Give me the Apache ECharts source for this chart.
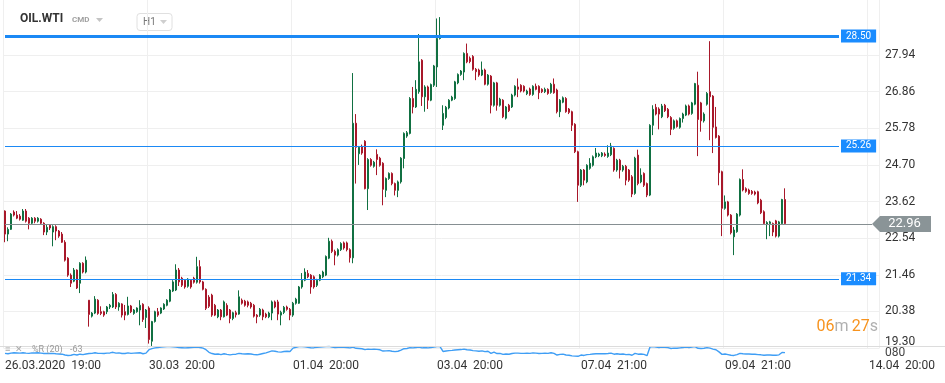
<!DOCTYPE html>
<html><head><meta charset="utf-8">
<script src="https://cdn.jsdelivr.net/npm/echarts@6/dist/echarts.min.js"></script>
<style>html,body{margin:0;padding:0;background:#fff}#c{width:945px;height:383px}</style>
</head><body><div id="c"></div>
<script>
// ---- DATA (OHLC rows: [open, close, low, high]) ----
const week1 = [
[23.34,22.66,22.42,23.36],[22.66,22.80,22.45,22.86],[22.80,23.25,22.78,23.28],[23.31,23.22,23.18,23.36],
[23.22,23.13,23.10,23.34],[23.19,23.10,23.06,23.25],[23.07,23.34,23.05,23.40],[23.34,23.04,23.00,23.40],
[23.13,22.98,22.80,23.16],[22.98,23.13,22.95,23.16],[23.13,23.04,22.98,23.16],[23.04,23.13,23.00,23.16],
[23.10,22.98,22.94,23.13],[22.98,22.72,22.63,23.01],[22.72,22.86,22.63,22.95],[22.92,22.84,22.78,22.95],
[22.72,22.88,22.30,22.92],[22.88,22.75,22.48,22.92],[22.75,22.60,22.55,22.78],[22.66,22.42,22.40,22.72],
[22.42,21.89,21.85,22.48],[21.95,21.45,21.40,21.98],[21.45,21.21,21.10,21.50],[21.27,21.60,21.24,21.66],
[21.60,21.07,21.04,21.62],[21.21,21.80,20.92,21.83],[21.80,21.54,21.50,21.83],[21.54,21.89,21.50,22.00]
];
const week2 = [
[20.71,20.29,19.93,20.71],[20.24,20.33,20.20,20.36],[20.33,20.74,20.30,20.83],[20.71,20.32,20.28,20.74],
[20.37,20.32,20.27,20.53],[20.37,20.27,20.22,20.40],[20.37,20.51,20.30,20.54],[20.51,20.56,20.45,20.60],
[20.51,20.88,20.48,20.95],[20.88,20.51,20.45,20.92],[20.51,20.62,20.40,20.65],[20.60,20.27,20.20,20.62],
[20.37,20.27,20.12,20.57],[20.29,20.54,20.26,20.81],[20.54,20.37,20.33,20.57],[20.32,20.42,20.28,20.45],
[20.37,20.48,20.34,20.50],[20.42,20.56,19.97,20.71],[20.59,20.14,20.07,20.62],[20.20,20.42,19.89,20.45],
[20.48,19.55,19.43,20.53],[19.50,20.08,19.36,20.10],[20.08,20.37,20.05,20.40],[20.37,20.27,20.22,20.48],
[20.33,20.48,20.30,20.50],[20.45,20.59,20.42,20.62],[20.56,20.71,20.53,20.74],[20.68,21.01,20.65,21.04],
[20.98,21.25,20.95,21.30],[21.01,21.60,20.98,21.77],[21.60,21.25,21.13,21.66],[21.36,21.15,21.10,21.40],
[21.30,21.10,21.05,21.33],[21.12,21.33,21.08,21.36],[21.30,21.10,21.05,21.33],[21.36,21.24,21.20,21.40],
[21.24,21.70,21.20,21.99],[21.70,21.25,21.20,21.89],[21.25,21.03,21.00,21.28],[21.03,20.47,20.42,21.06],
[20.80,20.53,20.48,20.86],[20.86,20.27,20.22,20.90],[20.56,20.27,20.24,20.60],[20.22,20.42,20.18,20.45],
[20.42,20.22,20.12,20.45],[20.22,20.66,20.20,20.70],[20.56,20.27,20.24,20.62],[20.42,20.17,20.03,20.45],
[20.17,20.34,20.12,20.37],[20.34,20.28,20.20,20.40],[20.30,20.81,20.28,21.00],[20.71,20.62,20.58,20.76],
[20.68,20.56,20.52,20.72],[20.66,20.56,20.50,20.70],[20.62,20.51,20.46,20.66],[20.56,20.24,20.20,20.60],
[20.27,20.22,20.03,20.30],[20.27,20.44,20.22,20.48],[20.42,20.22,20.12,20.46],[20.30,20.22,20.18,20.34],
[20.22,20.33,20.18,20.37],[20.33,20.66,20.12,20.70],[20.66,20.51,20.47,20.70],[20.66,20.30,20.12,20.72],
[20.27,20.35,19.97,20.40],[20.35,20.50,20.30,20.54],[20.51,20.44,20.40,20.55],[20.44,20.27,20.12,20.48],
[20.27,20.62,20.22,20.66],[20.62,20.74,20.58,20.78],[20.62,21.10,20.60,21.13],[21.10,21.30,21.05,21.51],
[21.30,21.54,21.27,21.65],[21.50,21.40,21.36,21.60],[21.45,21.10,20.90,21.48],[21.40,21.10,21.05,21.44],
[21.15,21.30,21.10,21.34],[21.30,21.45,21.27,21.48],[21.40,21.54,21.36,21.58],[21.45,22.00,21.42,22.03],
[21.95,22.45,21.92,22.55],[22.45,22.15,22.10,22.50],[22.15,22.04,21.74,22.20],[22.04,22.20,22.00,22.24],
[22.20,22.38,22.16,22.42],[22.40,22.25,22.20,22.44],[22.40,22.20,22.15,22.44],[22.20,21.96,21.82,22.24],
[21.96,25.93,21.80,27.41],[25.93,25.22,24.15,26.20],[25.03,25.22,24.70,25.26],[25.25,25.05,25.00,25.30],
[25.40,24.00,23.98,25.43],[24.00,24.86,23.37,24.90],[24.86,24.69,24.65,24.90],[24.66,24.78,24.62,24.82],
[25.01,24.86,24.40,25.16],[24.90,24.69,24.65,24.94],[24.75,23.98,23.51,24.78],[23.95,24.30,23.75,24.33],
[24.30,24.45,24.26,24.48],[24.45,24.15,24.10,24.48],[24.15,23.95,23.80,24.18],[23.95,24.20,23.75,24.24],
[24.20,24.90,24.15,24.93],[24.89,25.63,24.60,25.66],[25.55,25.65,25.50,25.70],[25.63,26.66,25.60,26.70],
[26.66,26.41,26.22,27.00],[26.41,26.93,26.38,27.20],[26.86,27.74,26.80,28.56],[27.79,26.71,26.44,27.82],
[26.71,27.00,26.27,27.05],[27.00,26.61,26.35,27.04],[26.61,27.07,26.58,27.10],[27.05,27.62,27.00,27.65],
[27.59,28.43,27.00,29.02],[28.43,28.53,28.40,29.06]
];
const week3 = [
[25.87,26.22,25.73,26.46],[26.10,26.40,26.05,26.44],[26.38,26.61,26.34,26.64],[26.61,26.70,26.58,26.74],
[26.66,27.15,26.62,27.18],[27.12,27.37,27.08,27.40],[27.37,27.47,27.33,27.50],[27.44,27.99,27.20,28.02],
[27.99,27.74,27.70,28.28],[27.85,27.75,27.70,27.90],[27.90,27.52,27.48,27.94],[27.52,27.45,27.20,27.56],
[27.50,27.35,27.30,27.54],[27.35,27.50,27.32,27.75],[27.50,27.08,27.05,27.54],[27.08,27.35,27.04,27.38],
[27.32,26.46,26.22,27.35],[26.46,27.12,26.42,27.15],[27.12,26.46,26.30,27.15],[26.46,26.64,26.42,26.68],
[26.61,26.12,26.08,26.64],[26.08,26.41,26.04,26.44],[26.46,26.30,26.26,26.50],[26.41,26.76,26.38,26.80],
[26.76,27.02,26.72,27.05],[27.00,26.93,26.70,27.25],[27.05,26.88,26.84,27.08],[27.02,26.88,26.84,27.05],
[26.80,26.88,26.76,26.92],[26.94,26.78,26.74,26.98],[26.78,27.02,26.74,27.05],[27.02,26.93,26.90,27.10],
[27.02,26.83,26.64,27.05],[26.93,26.86,26.82,26.96],[26.86,26.93,26.82,26.98],[26.93,26.81,26.77,26.96],
[26.84,27.08,26.80,27.12],[27.08,26.83,26.80,27.25],[26.91,26.27,26.22,26.95],[26.27,26.61,26.11,26.64],
[26.55,26.68,26.52,26.72],[26.66,26.27,26.24,26.70],[26.35,26.25,26.20,26.38],[26.27,25.87,25.70,26.30],
[25.90,25.09,25.05,25.93],[25.09,24.10,23.61,25.12],[24.10,24.55,24.05,24.58],[24.55,24.25,24.10,24.58],
[24.20,24.69,24.16,24.72],[24.60,24.75,24.56,24.90],[24.69,24.94,24.65,24.98],[24.94,25.05,24.90,25.20],
[24.97,25.02,24.93,25.06],[24.97,25.05,24.93,25.08],[25.02,24.98,24.94,25.07],[24.95,25.05,24.91,25.28],
[25.00,25.26,24.96,25.35],[25.19,24.55,24.50,25.22],[24.55,24.84,24.50,24.88],[24.84,24.55,24.30,24.88],
[24.55,24.66,24.50,24.70],[24.66,24.25,24.10,24.70],[24.55,24.25,24.20,24.58],[24.35,23.84,23.75,24.40],
[23.86,24.90,23.82,24.94],[24.99,24.15,24.10,25.15],[24.20,24.40,24.16,24.60],[24.45,24.10,24.05,24.48],
[24.15,23.81,23.75,24.18],[23.81,25.87,23.78,25.90],[25.87,26.34,25.58,26.46],[26.40,26.20,26.16,26.50],
[26.35,26.20,25.75,26.40],[26.12,26.44,26.08,26.50],[26.46,26.30,26.26,26.50],[26.34,26.12,26.08,26.38],
[26.10,25.75,25.58,26.14],[25.78,26.00,25.74,26.04],[26.00,25.83,25.80,26.04],[25.81,26.07,25.77,26.10],
[26.07,26.20,25.95,26.24],[26.17,26.44,26.14,26.48],[26.44,26.20,26.16,26.48],[26.22,26.53,26.18,26.56],
[26.49,27.10,26.46,27.12],[27.05,26.04,24.96,27.45],[26.53,26.00,25.68,26.56],[26.00,26.20,25.95,26.25],
[26.49,26.81,26.45,26.85],[26.86,26.71,25.43,28.35],[26.73,25.81,25.05,26.76],[25.82,25.51,25.48,26.41],
[25.55,24.47,24.10,25.58],[24.50,23.42,22.60,24.53],[23.42,23.61,23.38,23.80],[23.61,23.22,23.18,23.64],
[23.22,22.70,22.65,23.25],[22.58,22.78,22.04,22.87],[22.73,23.25,22.70,23.28],[23.22,24.27,23.18,24.30],
[24.27,23.96,23.92,24.57],[24.00,23.92,23.88,24.04],[23.96,23.86,23.82,24.00],[23.92,23.86,23.82,23.96],
[23.90,23.84,23.80,23.94],[23.91,23.58,23.54,23.94],[23.66,23.29,23.25,23.70],[23.32,22.97,22.93,23.36],
[22.94,23.00,22.51,23.04],[22.97,23.02,22.60,23.05],[22.97,22.72,22.60,23.00],[23.05,22.60,22.56,23.08],
[22.60,23.02,22.56,23.05],[22.97,23.68,22.93,23.70],[23.68,22.97,22.95,24.01]
];
// Williams %R (20) values, one per candle
const willR1 = [-70,-74,-68,-64,-66,-68,-64,-68,-70,-66,-66,-64,-68,-72,-70,-72,-70,-74,-76,-78,-86,-90,-88,-80,-86,-78,-82,-76];
const willR2 = [-72,-70,-64,-70,-70,-72,-68,-66,-60,-68,-66,-72,-72,-66,-70,-68,-66,-64,-74,-68,
-35,-25,-18,-14,-10,-8,-6,-6,-8,-10,-14,-16,-18,-16,-14,-12,-10,-14,-20,-35,
-60,-72,-78,-76,-82,-74,-80,-84,-80,-78,-70,-74,-76,-74,-76,-82,-84,-78,-72,-66,-56,-46,-50,-56,-58,-52,-50,-52,
-20,-12,-6,-6,-8,-12,-18,-16,-12,-10,-8,-6,-4,-10,-14,-12,-10,-12,-14,-18,
-10,-22,-24,-26,-34,-30,-32,-30,-32,-36,-48,-46,-44,-50,-54,-50,-40,
-26,-24,-16,-18,-14,-10,-18,-14,-18,-14,-10,-6,-6];
const willR3 = [-52,-48,-44,-42,-38,-36,-34,-30,-36,-38,-44,-46,-50,-46,-54,-50,-70,-58,-72,-70,-80,-76,-78,-72,-68,
-68,-70,-70,-68,-70,-66,-68,-72,-70,-68,-70,-64,-70,-86,-80,
-78,-86,-88,-94,-96,-98,-86,-90,-82,-80,-76,-74,-74,-74,-74,-72,-68,-78,-74,-78,-76,-82,-80,-88,-70,-78,-76,-80,-92,
-10,-6,-10,-14,-10,-12,-16,-24,-20,-22,-18,-14,-10,-14,-10,-6,-22,-24,-22,-16,
-20,-30,-36,-56,-80,
-76,-82,-88,-90,-82,-70,-74,-76,-76,-78,-78,-82,-84,-88,-86,-86,-88,-88,-84,-62,-63];
const timeLabels = {0:'26.03.2020  19:00', 48:'30.03  20:00', 96:'01.04  20:00', 144:'03.04  20:00', 192:'07.04  21:00', 240:'09.04  21:00', 288:'14.04  20:00'};
const priceTicks = ['19.30','20.38','21.46','22.54','23.62','24.70','25.78','26.86','27.94'];
const tickStep = 1.08;
const blueLevels = ['28.50','25.26','21.34'];
const lastPrice = '22.96';
const priceMin = 19.30, priceMax = 29.565;
const slotCount = 292;

// ---- CHART ----
const candles = week1.concat(week2, week3);
const willR = willR1.concat(willR2, willR3);
const cats = Array.from({length: slotCount}, (_, i) => String(i));
const FONT = 'Roboto, "Noto Sans", sans-serif';
const lineEnd = 278, grayEnd = 289;
const gridColors = priceTicks.map(() => '#efefef').concat(['rgba(0,0,0,0)','rgba(0,0,0,0)','rgba(0,0,0,0)']);

const blueLineData = blueLevels.map((lv, k) => [
  { coord: [0, parseFloat(lv)],
    lineStyle: { color: '#1b89f5', width: k === 0 ? 3 : 1, type: 'solid' },
    label: { show: true, position: 'end', distance: 2, formatter: lv, backgroundColor: '#1a8cff',
             color: '#fff', fontSize: 10, lineHeight: 11, padding: [1, 5, 1, 5], fontFamily: FONT } },
  { coord: [lineEnd, parseFloat(lv)] }
]);
blueLineData.push([
  { coord: [0, parseFloat(lastPrice)], lineStyle: { color: '#868f92', width: 1, type: 'solid' }, label: { show: false } },
  { coord: [grayEnd, parseFloat(lastPrice)] }
]);

const chart = echarts.init(document.getElementById('c'), null, { renderer: 'canvas' });
chart.setOption({
  animation: false,
  backgroundColor: '#ffffff',
  grid: [
    { left: 3.5, top: 0, width: 876, height: 348 },
    { left: 3.5, top: 346, width: 876, height: 10.5 }
  ],
  xAxis: [
    { type: 'category', gridIndex: 0, data: cats, boundaryGap: true,
      axisLine: { show: false }, axisTick: { show: false },
      axisLabel: { interval: (i) => timeLabels[i] !== undefined, formatter: (v, i) => timeLabels[i] || '',
                   align: 'left', margin: 12, color: '#333', fontSize: 12, fontFamily: FONT },
      splitLine: { show: true, interval: (i) => timeLabels[i] !== undefined, lineStyle: { color: '#efefef', width: 1 } } },
    { type: 'category', gridIndex: 1, data: cats, position: 'top', boundaryGap: true,
      axisLine: { show: false }, axisTick: { show: false }, axisLabel: { show: false }, splitLine: { show: false } }
  ],
  yAxis: [
    { type: 'value', gridIndex: 0, min: priceMin, max: priceMax, show: false },
    { type: 'value', gridIndex: 0, position: 'right', min: 0, max: priceMax - priceMin, interval: tickStep,
      axisLine: { show: false }, axisTick: { show: false },
      axisLabel: { margin: 5.5, color: '#333', fontSize: 12, fontFamily: FONT,
        formatter: (v) => { const k = Math.round(v / tickStep); if (Math.abs(v - k * tickStep) > 1e-6 || !priceTicks[k]) return '';
                            return k === 0 ? '{lo|' + priceTicks[k] + '}' : priceTicks[k]; },
        rich: { lo: { padding: [0, 0, 12, 0], color: '#333', fontSize: 12, fontFamily: FONT } } },
      splitLine: { show: true, lineStyle: { color: gridColors, width: 1 } } },
    { type: 'value', gridIndex: 1, min: -100, max: 0, show: false }
  ],
  graphic: [
    { type: 'line', silent: true, shape: { x1: 0, y1: 346.5, x2: 945, y2: 346.5 }, style: { stroke: '#dcdcdc', lineWidth: 1 }, z: 50 },
    { type: 'text', x: 20, y: 19, style: { text: 'OIL.WTI', fill: '#333', font: 'bold 12px ' + FONT, textVerticalAlign: 'middle' } },
    { type: 'text', x: 72, y: 20, style: { text: 'CMD', fill: '#a0a0a0', font: 'bold 8px ' + FONT, textVerticalAlign: 'middle' } },
    { type: 'polygon', shape: { points: [[96, 18], [103, 18], [99.5, 22]] }, style: { fill: '#c4c4c4' } },
    { type: 'rect', shape: { x: 137, y: 13.5, width: 35, height: 17, r: 3 }, style: { fill: '#fff', stroke: '#e0e0e0', lineWidth: 1 } },
    { type: 'text', x: 143, y: 22.5, style: { text: 'H1', fill: '#777', font: '10px ' + FONT, textVerticalAlign: 'middle' } },
    { type: 'polygon', shape: { points: [[160, 20], [167, 20], [163.5, 24]] }, style: { fill: '#cfcfcf' } },
    { type: 'text', x: 878, y: 327, z: 60, style: { text: '{o|06}{g|m} {o|27}{g|s}', textAlign: 'right', textVerticalAlign: 'middle',
        rich: { o: { fill: '#f7931e', fontSize: 16, fontFamily: FONT }, g: { fill: '#b0b0b0', fontSize: 16, fontFamily: FONT } } } },
    { type: 'text', x: 5, y: 350, z: 60, style: { text: '\u2261  \u2715', fill: '#a8a8a8', font: '9px ' + FONT, textVerticalAlign: 'middle' } },
    { type: 'text', x: 32, y: 350, z: 60, style: { text: '%R (20)', fill: '#999', font: '9px ' + FONT, textVerticalAlign: 'middle' } },
    { type: 'text', x: 70, y: 350, z: 60, style: { text: '-63', fill: '#999', font: '9px ' + FONT, textVerticalAlign: 'middle' } },
    { type: 'text', x: 885, y: 353, z: 60, style: { text: '080', fill: '#444', font: '12px ' + FONT, textVerticalAlign: 'middle' } }
  ],
  series: [
    { type: 'candlestick', xAxisIndex: 0, yAxisIndex: 0, data: candles, barWidth: 2.2,
      itemStyle: { color: '#1b9a5f', color0: '#e2293b', borderColor: '#117042', borderColor0: '#a8182a', borderWidth: 1 },
      markLine: { silent: true, symbol: ['none', 'none'], animation: false, data: blueLineData },
      markPoint: { silent: true, animation: false,
        data: [{ coord: [grayEnd, parseFloat(lastPrice)] }],
        symbol: 'path://M0,8 L8,0 L59,0 L59,16 L8,16 Z', symbolSize: [59, 16], symbolOffset: [29.5, 0],
        itemStyle: { color: '#8a9497' },
        label: { show: true, position: 'inside', formatter: lastPrice, color: '#fff', fontSize: 13, fontFamily: FONT, offset: [3, 0] } }
    },
    { type: 'line', xAxisIndex: 1, yAxisIndex: 2, data: willR, showSymbol: false, silent: true,
      lineStyle: { color: '#3f9ef5', width: 1.4 }, z: 3 }
  ]
});
</script></body></html>
